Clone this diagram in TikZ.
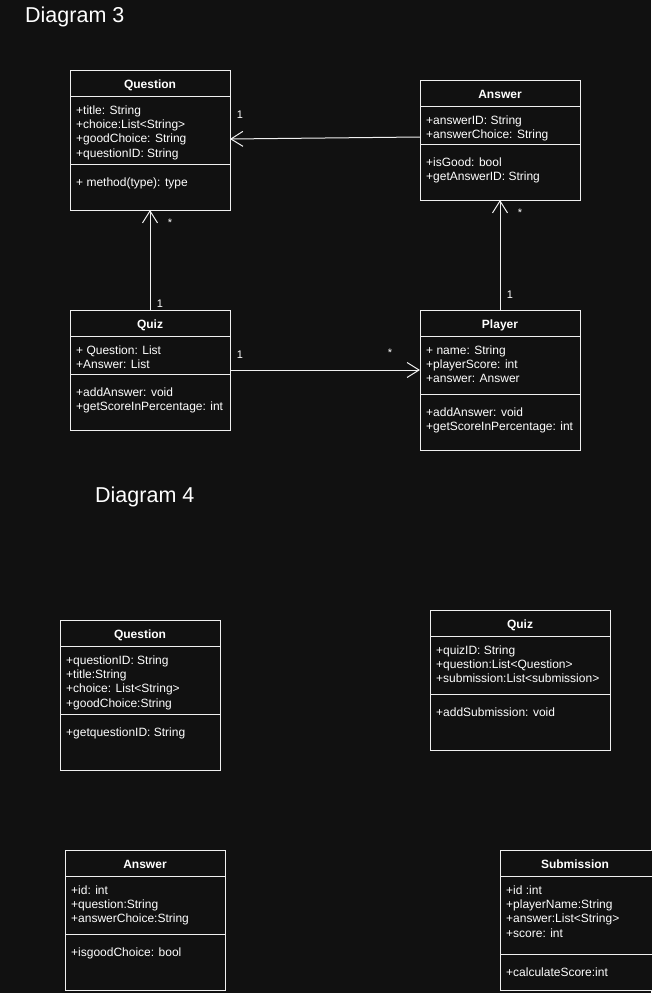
\documentclass[tikz,border=0pt]{standalone}
\usepackage{fontspec}
\setmainfont{Liberation Sans}
\usetikzlibrary{arrows.meta,calc}
\definecolor{bg}{HTML}{111111}
\definecolor{ln}{HTML}{F0F0F0}
\tikzset{
  box/.style={draw=ln,line width=1pt,fill=bg,inner sep=0pt,outer sep=0pt,anchor=north west},
  hdr/.style={font=\fontsize{12}{14}\selectfont\bfseries,text=white,anchor=base,inner sep=0pt,yshift=-1pt},
  txt/.style={font=\fontsize{12}{14}\selectfont,text=white,inner sep=0pt,yshift=-1pt},
  sepl/.style={draw=ln,line width=1pt},
  ttl/.style={font=\fontsize{21.5}{24}\selectfont,text=white,anchor=base west,inner sep=0pt},
  lbl/.style={font=\fontsize{11}{13}\selectfont,text=white,inner sep=0pt},
  assoc/.style={draw=ln,line width=1pt,-{Straight Barb[length=12pt,width=15pt,line width=1pt]}},
}
\newcommand\umllines[4]{\foreach \t [count=\i from 0] in {#4}{\node[txt,anchor=base west] (#1-\i) at (#2,{#3+14.4*\i}) {\t};}}
\begin{document}
\begin{tikzpicture}[x=1pt,y=-1pt]
\fill[bg] (0,0) rectangle (651,993);
\useasboundingbox (0,0) rectangle (651,993);

\node[ttl] (t3) at (25,22) {Diagram 3};
\node[ttl] (t4) at (95,502) {Diagram 4};

% ---- Diagram 3 ----
\node[box,minimum width=160pt,minimum height=140pt] (q3) at (70,70) {};
\draw[sepl] (70,96) -- (230,96);
\draw[sepl] (70,164) -- (230,164);
\node[hdr] (q3h) at (150,87) {Question};
\umllines{q3a}{76}{113}{+title: String,+choice:List<String>,+goodChoice: String,+questionID: String}
\umllines{q3m}{76}{185}{+ method(type): type}

\node[box,minimum width=160pt,minimum height=120pt] (a3) at (420,80) {};
\draw[sepl] (420,106) -- (580,106);
\draw[sepl] (420,144) -- (580,144);
\node[hdr] (a3h) at (500,97) {Answer};
\umllines{a3a}{426}{123}{+answerID: String,+answerChoice: String}
\umllines{a3m}{426}{165}{+isGood: bool,+getAnswerID: String}

\node[box,minimum width=160pt,minimum height=120pt] (z3) at (70,310) {};
\draw[sepl] (70,336) -- (230,336);
\draw[sepl] (70,374) -- (230,374);
\node[hdr] (z3h) at (150,327) {Quiz};
\umllines{z3a}{76}{353}{+ Question: List,+Answer: List}
\umllines{z3m}{76}{395}{+addAnswer: void,+getScoreInPercentage: int}

\node[box,minimum width=160pt,minimum height=140pt] (p3) at (420,310) {};
\draw[sepl] (420,336) -- (580,336);
\draw[sepl] (420,394) -- (580,394);
\node[hdr] (p3h) at (500,327) {Player};
\umllines{p3a}{426}{353}{+ name: String,+playerScore: int,+answer: Answer}
\umllines{p3m}{426}{415}{+addAnswer: void,+getScoreInPercentage: int}

% connectors
\coordinate (aq1) at ($(a3.north west)+(0,57)$);
\coordinate (aq2) at ($(q3.north east)+(0,69)$);
\draw[assoc] (aq1) -- (aq2);
\draw[assoc] (z3.north) -- (q3.south);
\draw[assoc] (p3.north) -- (a3.south);
\coordinate (zp) at (z3.east -| p3.west);
\draw[assoc] (z3.east) -- (zp);

\node[lbl] (l1) at (240,115) {1};
\node[lbl] (l2) at (170,223) {*};
\node[lbl] (l3) at (160,304) {1};
\node[lbl] (l4) at (240,355) {1};
\node[lbl] (l5) at (390,353) {*};
\node[lbl] (l6) at (510,295) {1};
\node[lbl] (l7) at (520,213) {*};

% ---- Diagram 4 ----
\node[box,minimum width=160pt,minimum height=150pt] (q4) at (60,620) {};
\draw[sepl] (60,646) -- (220,646);
\draw[sepl] (60,714) -- (220,714);
\node[hdr] (q4h) at (140,637) {Question};
\umllines{q4a}{66}{663}{+questionID: String,+title:String,+choice: List<String>,+goodChoice:String}
\umllines{q4m}{66}{735}{+getquestionID: String}

\node[box,minimum width=180pt,minimum height=140pt] (z4) at (430,610) {};
\draw[sepl] (430,636) -- (610,636);
\draw[sepl] (430,694) -- (610,694);
\node[hdr] (z4h) at (520,627) {Quiz};
\umllines{z4a}{436}{653}{+quizID: String,+question:List<Question>,+submission:List<submission>}
\umllines{z4m}{436}{715}{+addSubmission: void}

\node[box,minimum width=160pt,minimum height=140pt] (a4) at (65,850) {};
\draw[sepl] (65,876) -- (225,876);
\draw[sepl] (65,934) -- (225,934);
\node[hdr] (a4h) at (145,867) {Answer};
\umllines{a4a}{71}{893}{+id: int,+question:String,+answerChoice:String}
\umllines{a4m}{71}{955}{+isgoodChoice: bool}

\node[box,minimum width=156pt,minimum height=140pt] (s4) at (500,850) {};
\draw[sepl] (500,876) -- (656,876);
\draw[sepl] (500,954) -- (656,954);
\node[hdr] (s4h) at (575,867) {Submission};
\umllines{s4a}{506}{893}{+id :int,+playerName:String,+answer:List<String>,+score: int}
\umllines{s4m}{506}{975}{+calculateScore:int}
\end{tikzpicture}
\end{document}
